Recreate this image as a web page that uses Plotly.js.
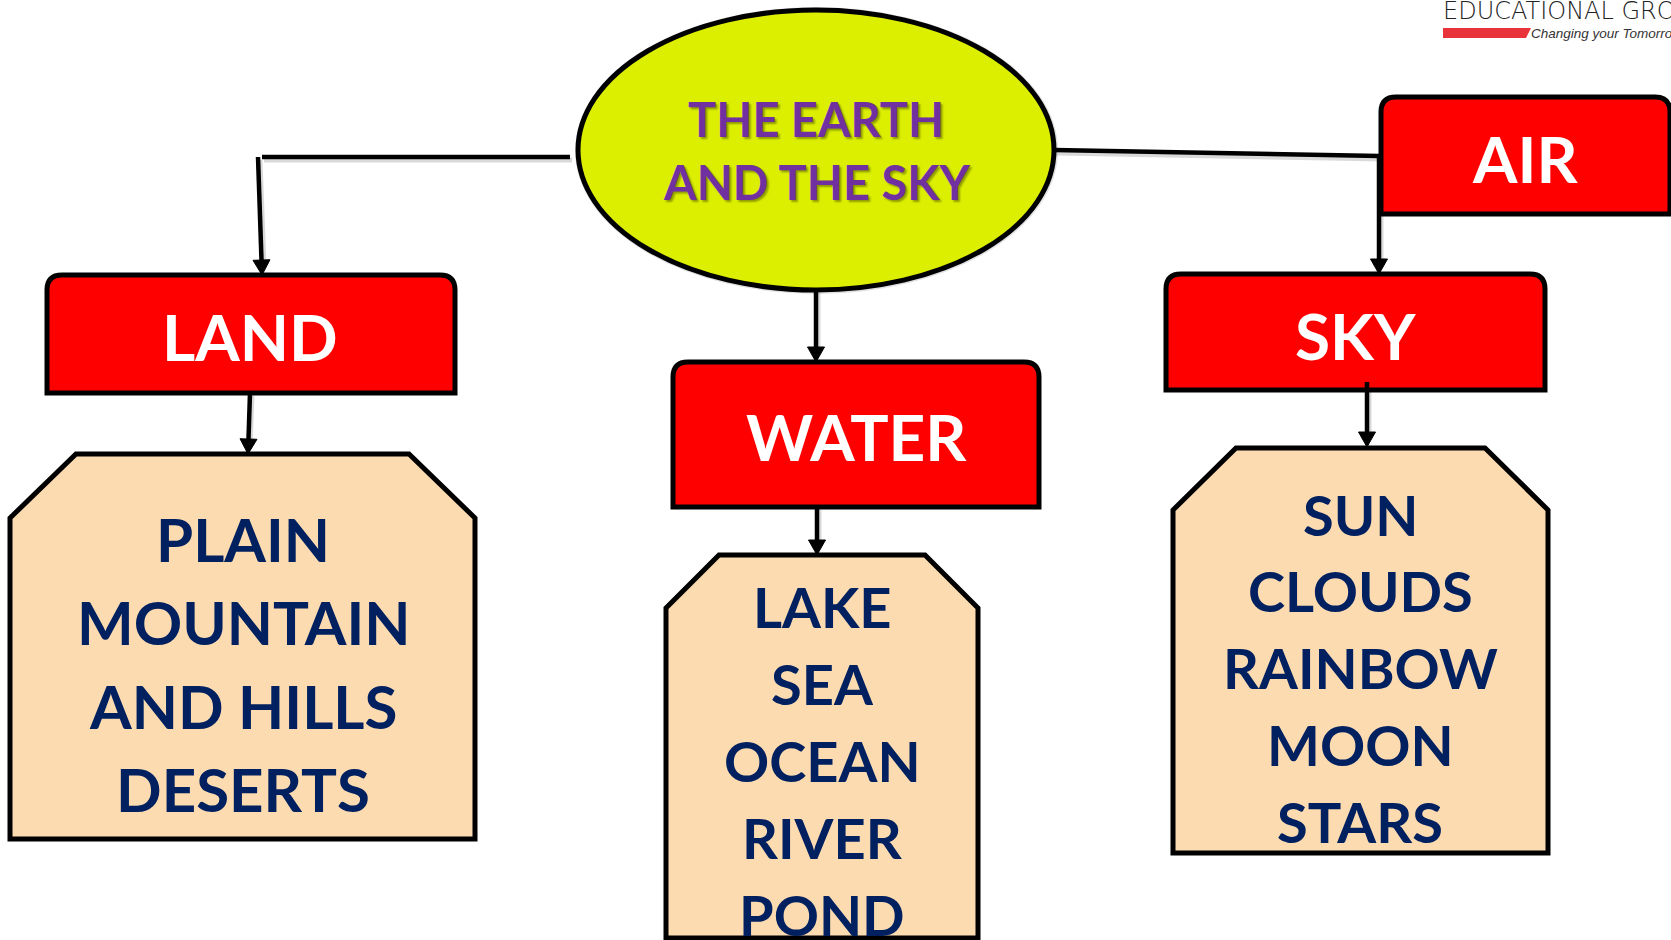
<!DOCTYPE html>
<html><head><meta charset="utf-8">
<script src="https://cdn.plot.ly/plotly-3.0.1.min.js"></script>
<style>html,body{margin:0;padding:0;background:#fff;overflow:hidden}#chart{width:1671px;height:940px}</style>
</head><body><div id="chart"></div>
<script>
// ---- content (text of the concept map) ----
const centerTitle = ['THE EARTH', 'AND THE SKY'];
const categories = ['LAND', 'WATER', 'SKY', 'AIR'];
const landItems = ['PLAIN', 'MOUNTAIN', 'AND HILLS', 'DESERTS'];
const waterItems = ['LAKE', 'SEA', 'OCEAN', 'RIVER', 'POND'];
const skyItems = ['SUN', 'CLOUDS', 'RAINBOW', 'MOON', 'STARS'];
const brandName = 'EDUCATIONAL GROUP';
const brandTagline = 'Changing your Tomorrow';

// ---- geometry / style (page pixels, y grows downward) ----
const W = 1671, H = 940;
const ellipseGeom = {cx: 816, cy: 150, rx: 238, ry: 140};
const titleGeom = {x: 816, y0: 119, step: 63, size: 47};
const redBoxGeom = {
  LAND:  {box: [47, 275, 455, 393],  label: [250, 336]},
  WATER: {box: [673, 362, 1039, 507], label: [856, 436]},
  SKY:   {box: [1166, 274, 1545, 390], label: [1355, 335]},
  AIR:   {box: [1381, 97, 1670, 214], label: [1525, 158]}
};
const listGeom = [
  {items: landItems,  box: [10, 454, 475, 839],   cut: [66, 64], x: 243,  y0: 539, step: 83.3, size: 60},
  {items: waterItems, box: [666, 555, 978, 938],  cut: [53, 53], x: 822,  y0: 606, step: 77,   size: 56},
  {items: skyItems,   box: [1173, 448, 1548, 853], cut: [63, 62], x: 1360, y0: 514, step: 76.8, size: 56}
];
// connectors: [x0,y0,x1,y1,hasArrow]
const connectors = [
  [570, 157, 262, 157, false],
  [258, 157, 262, 275, true],
  [816, 290, 816, 362, true],
  [250, 393, 248, 454, true],
  [817, 507, 817, 555, true],
  [1054, 150, 1380, 156, false],
  [1379, 156, 1379, 274, true],
  [1367, 382, 1367, 447, true]
];

const RED = '#FF0000', PEACH = '#FDDBB0', NAVY = '#002060', PURPLE = '#7030A0', LIME = '#DCEF00';
const FONT = 'Lato, "Open Sans", sans-serif';

const shapes = [];
const annotations = [];

function roundTopRect(b, r) {
  const [x0, y0, x1, y1] = b;
  return `M${x0},${y1} L${x0},${y0 + r} Q${x0},${y0} ${x0 + r},${y0} L${x1 - r},${y0} Q${x1},${y0} ${x1},${y0 + r} L${x1},${y1} Z`;
}
function cutRect(b, c) {
  const [x0, y0, x1, y1] = b;
  return `M${x0},${y1} L${x0},${y0 + c[1]} L${x0 + c[0]},${y0} L${x1 - c[0]},${y0} L${x1},${y0 + c[1]} L${x1},${y1} Z`;
}
function xy(s) { return Object.assign({xref: 'x', yref: 'y', layer: 'above'}, s); }

// connector shadows
connectors.forEach(c => {
  shapes.push(xy({type: 'line', x0: c[0] + 2, y0: c[1] + 3, x1: c[2] + 2, y1: c[3] - (c[4] ? 12 : 0) + 3,
    line: {color: 'rgba(0,0,0,0.15)', width: 5}}));
});

// ellipse shadow + ellipse
const e = ellipseGeom;
shapes.push(xy({type: 'circle', x0: e.cx - e.rx - 3, x1: e.cx + e.rx + 4, y0: e.cy - e.ry - 3, y1: e.cy + e.ry + 4,
  fillcolor: 'rgba(0,0,0,0.12)', line: {width: 0}}));
shapes.push(xy({type: 'circle', x0: e.cx - e.rx, x1: e.cx + e.rx, y0: e.cy - e.ry, y1: e.cy + e.ry,
  fillcolor: LIME, line: {color: '#000', width: 5}}));

// red category boxes
categories.forEach(cat => {
  const g = redBoxGeom[cat];
  shapes.push(xy({type: 'path', path: roundTopRect(g.box, 15), fillcolor: RED, line: {color: '#000', width: 5}}));
  annotations.push({xref: 'x', yref: 'y', x: g.label[0], y: g.label[1], text: cat, showarrow: false,
    xanchor: 'center', yanchor: 'middle', font: {family: FONT, size: 64, color: '#fff', weight: 700}});
});

// peach lists
listGeom.forEach(g => {
  shapes.push(xy({type: 'path', path: cutRect(g.box, g.cut), fillcolor: PEACH, line: {color: '#000', width: 5}}));
  g.items.forEach((t, i) => {
    annotations.push({xref: 'x', yref: 'y', x: g.x, y: g.y0 + i * g.step, text: t, showarrow: false,
      xanchor: 'center', yanchor: 'middle', font: {family: FONT, size: g.size, color: NAVY, weight: 700}});
  });
});

// connectors with arrowheads
connectors.forEach(c => {
  const [x0, y0, x1, y1, arrow] = c;
  const hl = 15, hw = 8.5;
  if (arrow) {
    const dx = x1 - x0, dy = y1 - y0, L = Math.hypot(dx, dy), ux = dx / L, uy = dy / L;
    const bx = x1 - ux * hl, by = y1 - uy * hl;
    shapes.push(xy({type: 'line', x0: x0, y0: y0, x1: bx + ux * 2, y1: by + uy * 2, line: {color: '#000', width: 4.5}}));
    shapes.push(xy({type: 'path',
      path: `M${x1},${y1} L${bx - uy * hw},${by + ux * hw} L${bx + uy * hw},${by - ux * hw} Z`,
      fillcolor: '#000', line: {color: '#000', width: 1}}));
  } else {
    shapes.push(xy({type: 'line', x0: x0, y0: y0, x1: x1, y1: y1, line: {color: '#000', width: 4.5}}));
  }
});

// center title
centerTitle.forEach((t, i) => {
  annotations.push({xref: 'x', yref: 'y', x: titleGeom.x, y: titleGeom.y0 + i * titleGeom.step, text: t, showarrow: false,
    xanchor: 'center', yanchor: 'middle',
    font: {family: FONT, size: titleGeom.size, color: PURPLE, weight: 700, shadow: '2px 2px 2px rgba(0,0,0,0.35)'}});
});

// brand logo (top right)
shapes.push(xy({type: 'path', path: 'M1443,28 L1531,28 L1526,38 L1443,38 Z', fillcolor: '#E8333A', line: {width: 0}}));
annotations.push({xref: 'x', yref: 'y', x: 1441, y: 11, text: brandName, showarrow: false, xanchor: 'left', yanchor: 'middle',
  font: {family: '"DejaVu Sans", sans-serif', size: 24, color: '#222', weight: 200}});
annotations.push({xref: 'x', yref: 'y', x: 1529, y: 33, text: brandTagline, showarrow: false, xanchor: 'left', yanchor: 'middle',
  font: {family: '"Liberation Sans", Arial, sans-serif', size: 13.5, color: '#333', style: 'italic'}});

const layout = {
  width: W, height: H,
  margin: {l: 0, r: 0, t: 0, b: 0, pad: 0},
  paper_bgcolor: '#fff', plot_bgcolor: '#fff',
  xaxis: {range: [0, W], visible: false, fixedrange: true},
  yaxis: {range: [H, 0], visible: false, fixedrange: true},
  showlegend: false,
  shapes: shapes,
  annotations: annotations
};
Plotly.newPlot('chart', [], layout, {staticPlot: true, displayModeBar: false});
</script>
</body></html>
